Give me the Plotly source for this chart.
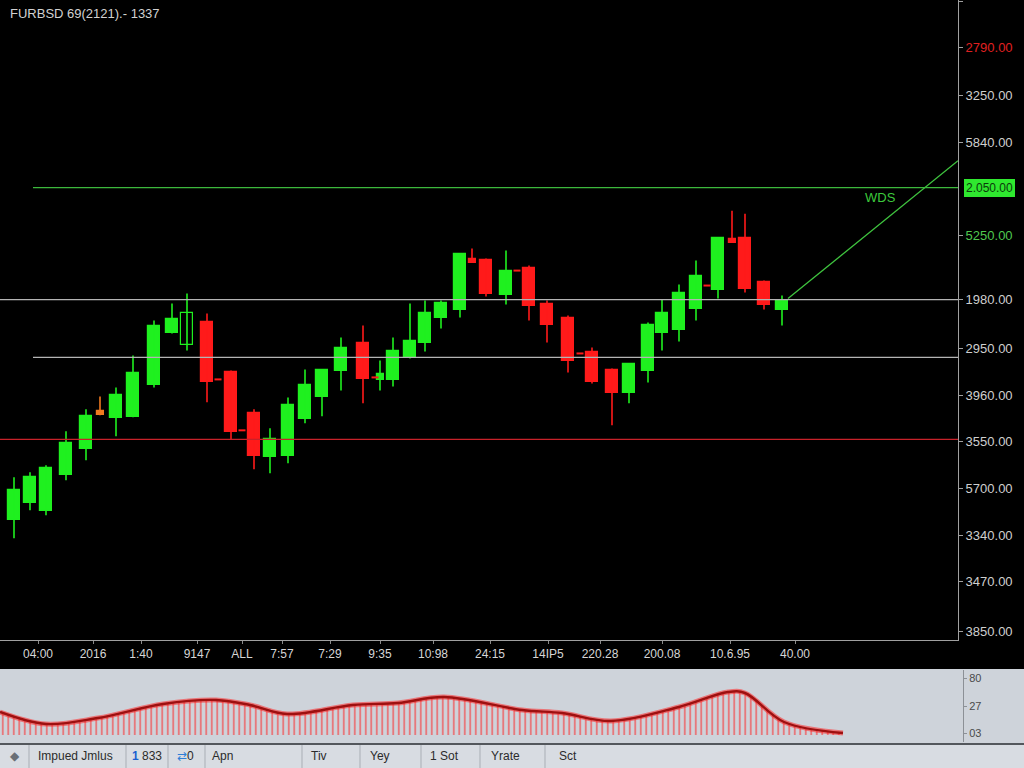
import plotly.graph_objects as go

# ---------------- data ----------------
title_text = "FURBSD 69(2121).- 1337"

candle_t = [14, 30, 46, 66, 86, 100, 116, 133, 154, 172, 187, 207, 231, 254, 270, 288, 305, 322,
            341, 363, 380, 393, 410, 425, 441, 460, 472, 486, 506, 529, 547, 568, 592, 612,
            629, 648, 662, 679, 696, 718, 732, 745, 764, 782]
candle_open = [120, 137, 129, 165, 191, 225, 222, 223, 255, 307, 295, 319, 268, 227, 183, 184, 221, 243,
               269, 297, 260, 260, 282, 297, 323, 331, 382, 381, 346, 373, 337, 323, 288, 270,
               247, 269, 307, 310, 332, 351, 402, 403, 359, 331]
candle_high = [163, 168, 175, 209, 231, 244, 253, 285, 320, 337, 347, 327, 270, 231, 212, 243, 271, 270,
               303, 315, 280, 303, 337, 340, 340, 387, 392, 382, 390, 375, 340, 325, 293, 272,
               277, 318, 341, 356, 380, 403, 430, 427, 360, 345]
candle_low = [102, 130, 125, 160, 180, 225, 204, 223, 253, 307, 290, 238, 201, 171, 167, 177, 217, 224,
              250, 237, 250, 254, 282, 289, 312, 323, 378, 344, 336, 320, 298, 268, 257, 215,
              237, 258, 290, 299, 320, 342, 398, 348, 331, 315]
candle_close = [150, 163, 172, 197, 224, 229, 245, 267, 314, 322, 328, 258, 208, 184, 201, 235, 255, 270,
                292, 261, 266, 289, 299, 328, 338, 387, 378, 347, 370, 335, 315, 279, 258, 247,
                276, 315, 328, 348, 365, 403, 398, 352, 336, 340]

signal_t = [218, 242, 375, 517, 580, 707]
signal_v = [261, 210, 263, 370, 287, 355]

level_values = [453, 341, 283, 201]
level_from = [33, 0, 33, 0]

trend_t = [788, 958]
trend_v = [342, 480]

price_tick_vals = [640, 593, 545, 498, 405, 341, 292, 245, 199, 152, 105, 59, 9]
price_tick_text = ["2545.00", "2790.00", "3250.00", "5840.00", "5250.00", "1980.00", "2950.00",
                   "3960.00", "3550.00", "5700.00", "3340.00", "3470.00", "3850.00"]
badge_value = 453
badge_text = "2.050.00"

time_tick_vals = [38, 93, 141, 197, 242, 282, 330, 380, 433, 490, 548, 600, 662, 730, 795]
time_tick_text = ["04:00", "2016", "1:40", "9147", "ALL", "7:57", "7:29", "9:35", "10:98",
                  "24:15", "14IP5", "220.28", "200.08", "10.6.95", "40.00"]

osc_t = [0, 46, 98, 163, 216, 250, 287, 353, 398, 444, 522, 562, 611, 679, 728, 745, 784, 843]
osc_v = [23, 11, 17, 31, 35, 30, 21, 30, 32, 38, 25, 22, 14, 28, 43, 42, 13, 2]
osc_tick_vals = [57, 29, 2]
osc_tick_text = ["80", "27", "03"]

toolbar_labels = ["◆", "Impued Jmlus", "<span style='color:#1a5fd0'><b>1</b></span> 833",
                  "<span style='color:#2f7fd6'>⇄</span>0", "Apn", "Tiv", "Yey", "1 Sot", "Yrate", "Sct"]
wds_label = "WDS"

# ---------------- styling ----------------
W, H = 1024, 768
FONT = "Liberation Sans"
UP = "#1ff01f"
DOWN = "#ff1a1a"
ORANGE = "#f07a20"
hollow_idx = {10}
orange_idx = {5}

def px_x(p):
    return p / W

def px_y(p):
    return 1 - p / H

body_base, body_len, body_col, body_line, body_w = [], [], [], [], []
wick_groups = {UP: ([], []), DOWN: ([], []), ORANGE: ([], [])}
for i, (t, o, h, l, c) in enumerate(zip(candle_t, candle_open, candle_high, candle_low, candle_close)):
    col = UP if c >= o else DOWN
    if i in orange_idx:
        col = ORANGE
    lo, hi = min(o, c), max(o, c)
    body_base.append(lo)
    body_len.append(max(hi - lo, 3))
    body_w.append(7 if abs(c - o) <= 6 else 12.5)
    body_col.append("#000000" if i in hollow_idx else col)
    body_line.append(col)
    xs, ys = wick_groups[col]
    xs += [t, t, None]
    ys += [l, h, None]

fig = go.Figure()

# wicks
for col, (xs, ys) in wick_groups.items():
    fig.add_trace(go.Scatter(x=xs, y=ys, mode="lines", line=dict(color=col, width=1.6),
                             hoverinfo="skip", showlegend=False, xaxis="x", yaxis="y"))

# bodies
fig.add_trace(go.Bar(x=candle_t, y=body_len, base=body_base, width=body_w,
                     marker=dict(color=body_col, line=dict(color=body_line, width=1.2)),
                     showlegend=False, xaxis="x", yaxis="y"))

# small signal markers
fig.add_trace(go.Scatter(x=signal_t, y=signal_v, mode="markers",
                         marker=dict(symbol="line-ew", size=5, line=dict(color=DOWN, width=2)),
                         showlegend=False, xaxis="x", yaxis="y"))

# trend line
fig.add_trace(go.Scatter(x=trend_t, y=trend_v, mode="lines", line=dict(color="#3fc43f", width=1.3),
                         showlegend=False, xaxis="x", yaxis="y"))

# oscillator: glow + main line with vertical-stripe fill
fig.add_trace(go.Scatter(x=osc_t, y=osc_v, mode="lines", line=dict(color="rgba(255,40,40,0.55)", width=5, shape="spline"),
                         hoverinfo="skip", showlegend=False, xaxis="x2", yaxis="y2"))
fig.add_trace(go.Scatter(x=osc_t, y=osc_v, mode="lines", line=dict(color="#9e1010", width=2.4, shape="spline"),
                         fill="tozeroy", fillcolor="rgba(0,0,0,0)",
                         fillpattern=dict(shape="|", fgcolor="#ff1e1e", bgcolor="rgba(0,0,0,0)",
                                          size=5.5, solidity=0.35),
                         showlegend=False, xaxis="x2", yaxis="y2"))

shapes = []
# panel backgrounds
shapes.append(dict(type="rect", xref="paper", yref="paper", x0=0, x1=1, y0=px_y(743), y1=px_y(669),
                   fillcolor="#ced3da", line=dict(width=0), layer="below"))
shapes.append(dict(type="rect", xref="paper", yref="paper", x0=0, x1=1, y0=0, y1=px_y(745),
                   fillcolor="#d8dce2", line=dict(width=0), layer="below"))
shapes.append(dict(type="line", xref="paper", yref="paper", x0=0, x1=1, y0=px_y(744), y1=px_y(744),
                   line=dict(color="#6f747b", width=1.5)))
for sx in [29, 126, 168, 205, 302, 360, 421, 480, 545]:
    shapes.append(dict(type="line", xref="paper", yref="paper", x0=px_x(sx), x1=px_x(sx),
                       y0=0, y1=px_y(745), line=dict(color="#a9aeb5", width=1)))
# price levels
level_cols = ["#3cb83c", "#b4b4b4", "#b4b4b4", "#c8222a"]
for v, x0, col in zip(level_values, level_from, level_cols):
    shapes.append(dict(type="line", xref="x", yref="y", x0=x0, x1=958, y0=v, y1=v,
                       line=dict(color=col, width=1.3)))

annotations = [
    dict(text=title_text, xref="paper", yref="paper", x=px_x(8), y=px_y(13), xanchor="left",
         yanchor="middle", showarrow=False, font=dict(family=FONT, size=13, color="#d2d2d2")),
    dict(text=wds_label, xref="x", yref="y", x=880, y=443, showarrow=False,
         font=dict(family=FONT, size=13, color="#3cc83c")),
    dict(text=badge_text, xref="paper", yref="y", x=px_x(964), y=badge_value, xanchor="left",
         showarrow=False, bgcolor="#2fe82f", bordercolor="#2fe82f", borderpad=1,
         font=dict(family=FONT, size=12, color="#0b3b0b")),
]
toolbar_x = [15, 36, 130, 175, 210, 309, 368, 428, 489, 557]
for tx, lab in zip(toolbar_x, toolbar_labels):
    annotations.append(dict(text=lab, xref="paper", yref="paper", x=px_x(tx), y=px_y(756),
                            xanchor="center" if lab == "◆" else "left", yanchor="middle",
                            showarrow=False,
                            font=dict(family=FONT, size=12, color="#6a6f76" if lab == "◆" else "#2b2b2b")))

styled_ticks = []
for i, t in enumerate(price_tick_text):
    if i == 1:
        styled_ticks.append(f"<span style='color:#e02020'>{t}</span>")
    elif i == 4:
        styled_ticks.append(f"<span style='color:#4fc84f'>{t}</span>")
    else:
        styled_ticks.append(t)

fig.update_layout(
    width=W, height=H, autosize=False,
    margin=dict(l=0, r=0, t=0, b=0),
    paper_bgcolor="#000000", plot_bgcolor="rgba(0,0,0,0)",
    barmode="overlay", bargap=0,
    font=dict(family=FONT),
    shapes=shapes, annotations=annotations,
    xaxis=dict(domain=[0, 958 / W], range=[0, 958], anchor="y", showgrid=False, zeroline=False,
               showline=True, linecolor="#a0a0a0", linewidth=1, ticks="outside", ticklen=3,
               tickcolor="#8a8a8a", tickvals=time_tick_vals, ticktext=time_tick_text,
               tickfont=dict(family=FONT, size=12, color="#d6d6d6")),
    yaxis=dict(domain=[px_y(640), 1], range=[0, 641], anchor="x", side="right", showgrid=False,
               zeroline=False, showline=True, linecolor="#a0a0a0", linewidth=1, ticks="outside",
               ticklen=4, tickcolor="#a0a0a0", tickvals=price_tick_vals, ticktext=styled_ticks,
               tickfont=dict(family=FONT, size=13, color="#cfcfcf")),
    xaxis2=dict(domain=[0, 963 / W], range=[0, 963], anchor="y2", showgrid=False, zeroline=False,
                showticklabels=False, showline=False),
    yaxis2=dict(domain=[px_y(742), px_y(670)], range=[-7, 65], anchor="x2", side="right",
                showgrid=False, zeroline=False, showline=True, linecolor="#8c9096", ticks="outside",
                ticklen=3, tickcolor="#8c9096", tickvals=osc_tick_vals, ticktext=osc_tick_text,
                tickfont=dict(family=FONT, size=11, color="#4a4a4a")),
)

fig.write_html("out.html")
